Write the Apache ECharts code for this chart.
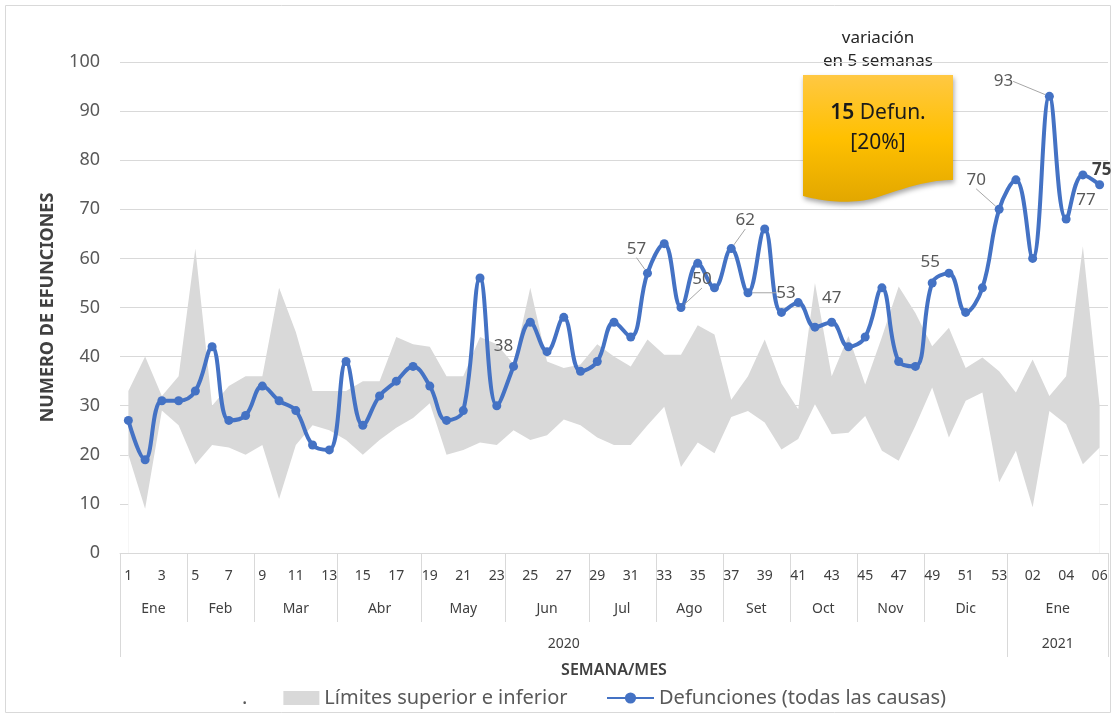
<!DOCTYPE html>
<html><head><meta charset="utf-8">
<script src="https://cdn.jsdelivr.net/npm/echarts@6/dist/echarts.min.js"></script>
<style>html,body{margin:0;padding:0;background:#fff}#c{width:1116px;height:718px}</style>
</head><body><div id="c"></div>
<script>
// ---- data ----
const weekLabels = ['1','2','3','4','5','6','7','8','9','10','11','12','13','14','15','16','17','18','19','20',
  '21','22','23','24','25','26','27','28','29','30','31','32','33','34','35','36','37','38','39','40',
  '41','42','43','44','45','46','47','48','49','50','51','52','53','01','02','03','04','05','06'];
const monthNames = ['Ene','Feb','Mar','Abr','May','Jun','Jul','Ago','Set','Oct','Nov','Dic','Ene'];
const monthWeeks = [4,4,5,5,5,5,4,4,4,4,4,5,6];
const yearNames = ['2020','2021'];
const yearWeeks = [53,6];
const deaths = [27,19,31,31,33,42,27,28,34,31,29,22,21,39,26,32,35,38,34,27,29,56,30,38,47,41,48,37,39,47,
  44,57,63,50,59,54,62,53,66,49,51,46,47,42,44,54,39,38,55,57,49,54,70,76,60,93,68,77,75];
const upperLimit = [33,40,32,36,62,30,34,36,36,54,45,33,33,33,35,35,44,42.5,42,36,36,44,42.5,38.5,54,39,37.7,38.4,42.5,40,
  38,43.5,40.4,40.4,46.4,44.5,31.2,36,43.5,34.5,29.3,55,36,44.2,34.3,44,54.3,48.9,42.1,45.9,37.7,39.8,37,32.7,39.4,32,36,62.5,30];
const lowerLimit = [20,9,29,26,18,22,21.5,20,22,11,22,26,25,23,20,23,25.5,27.5,30.5,20,21,22.5,22,25,23,24,27.2,26,23.5,22,
  22,26,29.8,17.5,22.5,20.3,27.7,28.9,26.6,21.1,23.2,30.3,24.2,24.5,27.9,20.8,18.8,25.9,33.7,23.5,31,32.7,14.4,20.8,9.3,28.9,26.2,18.1,21.5];
const labelIdx = [23,31,33,36,37,42,48,52,55,57,58];

// ---- label layout (offsets from the point, px) ----
const labelDx = [-10,-11,21,14,38,0,-2,-23,-46,3,2];
const labelDy = [-20,-24,-28,-28,0,-24,-21,-29,-15,25,-15];
const labelLeader = [false,true,true,true,true,false,false,true,true,false,false];

const FONT = 'Noto Sans';
const N = weekLabels.length;
function buildRow(names, spans){
  const cats = new Array(2*N+1).fill('');
  const ticks = new Set([0]);
  let start = 0;
  names.forEach((nm,j)=>{ const end = start+spans[j]; cats[start+end] = nm; ticks.add(2*end); start = end; });
  return {cats, ticks};
}
const monthRow = buildRow(monthNames, monthWeeks);
const yearRow = buildRow(yearNames, yearWeeks);

const deathData = deaths.map((v,i)=>{
  const j = labelIdx.indexOf(i);
  if (j < 0) return v;
  const last = (i === N-1);
  return {value:v,
    label:{show:true, formatter:String(v), fontWeight: last?'bold':'normal', color: last?'#404040':'#595959'},
    labelLine:{show:labelLeader[j]}};
});

function bez(p0,p1,p2,p3,t){const u=1-t;return u*u*u*p0+3*u*u*t*p1+3*u*t*t*p2+t*t*t*p3;}
const docPts = [[803,75],[953,75],[953,180]];
const curves = [[[953,180],[925,180],[900,190],[875,198]],[[875,198],[850,205],[822,201],[803,196]]];
curves.forEach(c=>{for(let k=1;k<=20;k++){const t=k/20;docPts.push([bez(c[0][0],c[1][0],c[2][0],c[3][0],t),bez(c[0][1],c[1][1],c[2][1],c[3][1],t)]);}});

const chart = echarts.init(document.getElementById('c'));
chart.setOption({
  animation:false,
  textStyle:{fontFamily:FONT},
  grid:{left:120, right:8, top:62, bottom:165},
  legend:[
    {data:['.', 'Límites superior e inferior'], left:196, top:683, icon:'rect', itemWidth:36, itemHeight:14, itemGap:36,
     selectedMode:false, textStyle:{fontSize:20, color:'#595959', fontFamily:FONT}},
    {data:['Defunciones (todas las causas)'], left:601, top:683, itemWidth:47, itemHeight:14,
     selectedMode:false, textStyle:{fontSize:20, color:'#595959', fontFamily:FONT}}
  ],
  xAxis:[
    {type:'category', data:weekLabels, boundaryGap:true, z:5,
     axisLine:{show:true, lineStyle:{color:'#d9d9d9', width:1}}, axisTick:{show:false},
     axisLabel:{interval:1, margin:16, fontSize:14, color:'#404040', fontFamily:FONT},
     name:'SEMANA/MES', nameLocation:'middle', nameGap:109,
     nameTextStyle:{fontSize:16, fontWeight:600, color:'#404040', fontFamily:FONT}},
    {type:'category', data:monthRow.cats, boundaryGap:false, position:'bottom',
     axisLine:{show:false},
     axisTick:{show:true, interval:(i)=>monthRow.ticks.has(i), length:69, lineStyle:{color:'#d9d9d9'}},
     axisLabel:{interval:0, margin:49, fontSize:14, color:'#404040', fontFamily:FONT}, splitLine:{show:false}},
    {type:'category', data:yearRow.cats, boundaryGap:false, position:'bottom',
     axisLine:{show:false},
     axisTick:{show:true, interval:(i)=>yearRow.ticks.has(i), length:104, lineStyle:{color:'#d9d9d9'}},
     axisLabel:{interval:0, margin:84, fontSize:14, color:'#404040', fontFamily:FONT}, splitLine:{show:false}}
  ],
  yAxis:{type:'value', min:0, max:100, interval:10,
    axisLine:{show:false}, axisTick:{show:false},
    splitLine:{lineStyle:{color:'#d9d9d9', width:1}},
    axisLabel:{margin:20, fontSize:18, color:'#595959', fontFamily:FONT},
    name:'NUMERO DE EFUNCIONES', nameLocation:'middle', nameGap:63, nameRotate:90,
    nameTextStyle:{fontSize:18, fontWeight:'bold', color:'#404040', fontFamily:FONT}},
  series:[
    {name:'Límites superior e inferior', type:'line', data:upperLimit, symbol:'none', color:'#d9d9d9',
     lineStyle:{width:0, opacity:0}, areaStyle:{color:'#d9d9d9', opacity:1}, z:1, silent:true},
    {name:'.', type:'line', data:lowerLimit, symbol:'none', color:'#ffffff',
     lineStyle:{width:0, opacity:0}, areaStyle:{color:'#ffffff', opacity:1}, z:2, silent:true},
    {name:'Defunciones (todas las causas)', type:'line', data:deathData, color:'#4472C4',
     smooth:0.4, symbol:'circle', symbolSize:9, z:3,
     lineStyle:{width:4, color:'#4472C4'}, itemStyle:{color:'#4472C4'},
     label:{show:false, position:'inside', fontSize:17, color:'#595959', fontFamily:FONT},
     labelLine:{show:false, lineStyle:{color:'#a6a6a6', width:1}},
     labelLayout:(p)=>{const j=labelIdx.indexOf(p.dataIndex); if(j<0) return {}; return {dx:labelDx[j], dy:labelDy[j]};}}
  ],
  graphic:[
    {type:'rect', shape:{x:5.5, y:5.5, width:1105, height:707}, style:{fill:'none', stroke:'#d9d9d9', lineWidth:1}, silent:true, z:-1},
    {type:'text', x:878, y:38, style:{text:'variación', align:'center', verticalAlign:'middle', fontSize:17, fontFamily:FONT, fill:'#262626'}},
    {type:'text', x:878, y:61, style:{text:'en 5 semanas', align:'center', verticalAlign:'middle', fontSize:17, fontFamily:FONT, fill:'#262626'}},
    {type:'polygon', shape:{points:docPts}, z:10,
     style:{fill:new echarts.graphic.LinearGradient(0,0,0,1,[{offset:0,color:'#FFC843'},{offset:0.5,color:'#FFC000'},{offset:1,color:'#E2A700'}]),
            shadowBlur:5, shadowColor:'rgba(0,0,0,0.35)', shadowOffsetX:1, shadowOffsetY:3}},
    {type:'text', x:878, y:113, z:11, style:{text:'{b|15} Defun.', align:'center', verticalAlign:'middle', fontSize:21, fontFamily:FONT, fill:'#1a1a1a',
      rich:{b:{fontSize:21, fontWeight:600, fontFamily:FONT, fill:'#1a1a1a'}}}},
    {type:'text', x:878, y:143, z:11, style:{text:'[20%]', align:'center', verticalAlign:'middle', fontSize:21, fontFamily:FONT, fill:'#1a1a1a'}}
  ]
});
</script></body></html>
